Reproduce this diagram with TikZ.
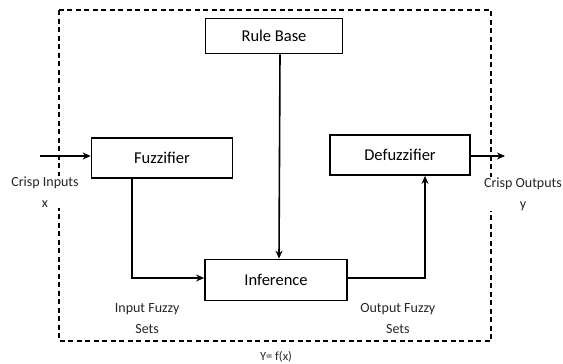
\documentclass[tikz,border=0pt]{standalone}
\usepackage{fontspec}
\setmainfont{Carlito}
\usepackage{tikz}
\usetikzlibrary{positioning,arrows.meta}
\tikzset{
  block/.style={rectangle, draw, line width=1.7pt, fill=white, inner sep=0pt,
                font=\fontsize{16.5}{19}\selectfont},
  lbl/.style={fill=white, inner sep=1pt, align=center, text=black!85,
              font=\fontsize{14}{21}\selectfont},
  fwd/.style={-{Stealth[length=8pt,width=7pt]}, line width=1.6pt},
  frame/.style={line width=1.4pt, dash pattern=on 5pt off 3.5pt},
}

\begin{document}
\begin{tikzpicture}[x=1pt,y=-1pt]
  \useasboundingbox (0,0) rectangle (563,364);
  \draw[frame] (59,10) rectangle (491,341);

  \node[block, minimum width=137pt, minimum height=35pt] (rulebase) at (274,36) {Rule Base};
  \node[block, minimum width=142pt, minimum height=41pt] (inference) at (276,280) {Inference};
  \node[block, minimum width=141pt, minimum height=40pt] (fuzzifier) at (162,158) {Fuzzifier};
  \node[block, minimum width=140pt, minimum height=40pt] (defuzzifier) at (400,155) {Defuzzifier};

  \node[lbl] (crispin) at (45,192) {Crisp Inputs\\x};
  \node[lbl] (crispout) at (523,194) {Crisp Outputs\\y};
  \node[lbl] (infuzzy) [below=1pt of inference.south west, xshift=-57pt] {Input Fuzzy\\Sets};
  \node[lbl] (outfuzzy) [below=1pt of inference.south east, xshift=50pt] {Output Fuzzy\\Sets};
  \node[lbl, font=\fontsize{12.5}{14}\selectfont] (fx) at (276,357) {Y= f(x)};

  \coordinate (xin) at (40,156);
  \coordinate (yout) at (505,156);

  \draw[fwd] (xin) -- (xin -| fuzzifier.west);
  \draw[fwd] (defuzzifier.east |- yout) -- (yout);
  \draw[fwd] ([xshift=6pt]rulebase.south) -- ([xshift=3pt]inference.north);
  \draw[fwd] ([xshift=-30pt]fuzzifier.south) |- ([yshift=2pt]inference.west);
  \draw[fwd] ([yshift=2pt]inference.east) -| ([xshift=25pt]defuzzifier.south);
\end{tikzpicture}
\end{document}
